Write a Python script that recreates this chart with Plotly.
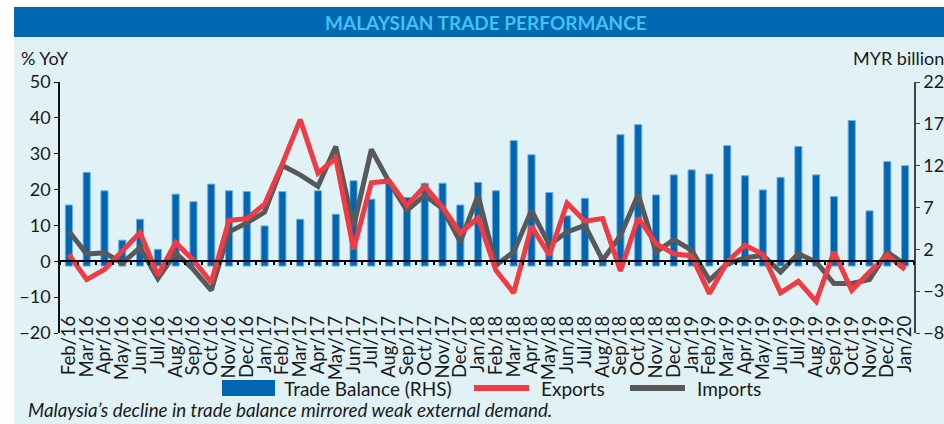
import plotly.graph_objects as go

months = ["Feb/16", "Mar/16", "Apr/16", "May/16", "Jun/16", "Jul/16", "Aug/16", "Sep/16",
          "Oct/16", "Nov/16", "Dec/16", "Jan/17", "Feb/17", "Mar/17", "Apr/17", "May/17",
          "Jun/17", "Jul/17", "Aug/17", "Sep/17", "Oct/17", "Nov/17", "Dec/17", "Jan/18",
          "Feb/18", "Mar/18", "Apr/18", "May/18", "Jun/18", "Jul/18", "Aug/18", "Sep/18",
          "Oct/18", "Nov/18", "Dec/18", "Jan/19", "Feb/19", "Mar/19", "Apr/19", "May/19",
          "Jun/19", "Jul/19", "Aug/19", "Sep/19", "Oct/19", "Nov/19", "Dec/19", "Jan/20"]

trade_balance = [7.3, 11.2, 9.0, 3.1, 5.6, 2.0, 8.6, 7.7,
                 9.8, 9.0, 8.9, 4.8, 8.9, 5.6, 9.0, 6.2,
                 10.2, 8.0, 10.0, 8.2, 9.9, 9.9, 7.3, 10.0,
                 9.0, 15.0, 13.3, 8.8, 6.0, 8.1, 1.0, 15.7,
                 16.9, 8.5, 10.9, 11.5, 11.0, 14.4, 10.8, 9.1,
                 10.6, 14.3, 10.9, 8.3, 17.4, 6.6, 12.5, 12.0]

exports = [1.9, -5.1, -2.3, 3.1, 8.0, -3.9, 5.2, 0.3,
           -5.9, 11.4, 11.9, 15.9, 27.2, 39.5, 24.6, 28.8,
           3.3, 21.9, 22.4, 15.6, 20.9, 15.1, 7.9, 12.1,
           -2.5, -8.8, 9.8, 1.7, 16.2, 11.2, 11.9, -2.7,
           12.1, 4.9, 2.1, 1.5, -9.0, -0.2, 4.5, 2.0,
           -8.8, -5.6, -11.2, 2.6, -8.1, -3.0, 1.7, -2.3]

imports = [8.4, 2.0, 2.4, -0.5, 3.8, -4.8, 2.3, -2.3,
           -8.1, 8.2, 10.7, 13.7, 26.7, 24.1, 20.9, 32.0,
           9.6, 31.2, 22.1, 14.2, 18.4, 14.7, 5.4, 18.4,
           -1.1, 2.6, 14.2, 4.6, 8.2, 10.0, 0.3, 7.2,
           18.6, 2.6, 6.0, 3.1, -5.3, -0.7, 0.9, 1.7,
           -3.0, 2.1, -0.2, -6.2, -6.2, -5.1, 2.6, -0.9]

left_ticks = [-20, -10, 0, 10, 20, 30, 40, 50]
right_ticks = [-8, -3, 2, 7, 12, 17, 22]

W, H = 944, 424
L, R, T, B = 60, 914, 82, 333  # plot area in pixels


def px(p):
    return (p - L) / (R - L)


def py(p):
    return (B - p) / (B - T)


FONT = "Lato, 'Open Sans', sans-serif"
TXT = "#1a1a1a"
BLUE = "#0066b3"
RED = "#ef3b44"
GREY = "#58595b"

fig = go.Figure()

fig.add_trace(go.Bar(
    x=months, y=trade_balance, name="Trade Balance (RHS)",
    marker=dict(color=BLUE, line=dict(color="#6fb0e0", width=1)),
    width=0.4, xaxis="x", yaxis="y", showlegend=False,
))
fig.add_trace(go.Scatter(
    x=months, y=imports, name="Imports", mode="lines",
    line=dict(color=GREY, width=5), xaxis="x", yaxis="y2", showlegend=False,
))
fig.add_trace(go.Scatter(
    x=months, y=exports, name="Exports", mode="lines",
    line=dict(color=RED, width=5), xaxis="x", yaxis="y2", showlegend=False,
))
# invisible helper trace carrying the categories for the zero-line axis
fig.add_trace(go.Scatter(
    x=months, y=[0] * len(months), mode="lines", line=dict(width=0),
    showlegend=False, hoverinfo="skip", xaxis="x2", yaxis="y2",
))

zero_frac = (0 - left_ticks[0]) / (left_ticks[-1] - left_ticks[0])

shapes = [
    dict(type="rect", xref="paper", yref="paper", x0=px(14), x1=px(950), y0=py(430), y1=py(37),
         fillcolor="#e1f2f7", line=dict(width=0), layer="below"),
    dict(type="rect", xref="paper", yref="paper", x0=px(14), x1=px(950), y0=py(37), y1=py(7),
         fillcolor="#0067b1", line=dict(width=0), layer="below"),
    # legend keys
    dict(type="rect", xref="paper", yref="paper", x0=px(222), x1=px(275), y0=py(396), y1=py(380),
         fillcolor=BLUE, line=dict(width=0)),
    dict(type="line", xref="paper", yref="paper", x0=px(474), x1=px(529), y0=py(388), y1=py(388),
         line=dict(color=RED, width=6)),
    dict(type="line", xref="paper", yref="paper", x0=px(630), x1=px(685), y0=py(388), y1=py(388),
         line=dict(color=GREY, width=6)),
]

annotations = [
    dict(text="<b>MALAYSIAN TRADE PERFORMANCE</b>", xref="paper", yref="paper",
         x=px(486), y=py(22), xanchor="center", yanchor="middle", showarrow=False,
         font=dict(family=FONT, size=19, color="#41c3ef")),
    dict(text="% YoY", xref="paper", yref="paper", x=px(19), y=py(58),
         xanchor="left", yanchor="middle", showarrow=False,
         font=dict(family=FONT, size=18, color=TXT)),
    dict(text="MYR billion", xref="paper", yref="paper", x=px(851), y=py(58),
         xanchor="left", yanchor="middle", showarrow=False,
         font=dict(family=FONT, size=18, color=TXT)),
    dict(text="Trade Balance (RHS)", xref="paper", yref="paper", x=px(282), y=py(388),
         xanchor="left", yanchor="middle", showarrow=False,
         font=dict(family=FONT, size=19, color=TXT)),
    dict(text="Exports", xref="paper", yref="paper", x=px(539), y=py(388),
         xanchor="left", yanchor="middle", showarrow=False,
         font=dict(family=FONT, size=19, color=TXT)),
    dict(text="Imports", xref="paper", yref="paper", x=px(695), y=py(388),
         xanchor="left", yanchor="middle", showarrow=False,
         font=dict(family=FONT, size=19, color=TXT)),
    dict(text="<i>Malaysia\u2019s decline in trade balance mirrored weak external demand.</i>",
         xref="paper", yref="paper", x=px(26), y=py(409),
         xanchor="left", yanchor="middle", showarrow=False,
         font=dict(family=FONT, size=18.8, color=TXT)),
]

fig.update_layout(
    width=W, height=H,
    margin=dict(l=L, r=W - R, t=T, b=H - B, pad=0, autoexpand=False),
    paper_bgcolor="white",
    plot_bgcolor="rgba(0,0,0,0)",
    font=dict(family=FONT, size=16, color=TXT),
    showlegend=False,
    barmode="overlay",
    xaxis=dict(
        type="category", categoryorder="array", categoryarray=months,
        tickmode="array", tickvals=months, ticktext=months,
        range=[-0.5, len(months) - 0.5],
        anchor="y", showline=False, ticks="", showgrid=False, zeroline=False,
        tickangle=-90, ticklabelstandoff=-22,
        tickfont=dict(family=FONT, size=18.5, color=TXT),
    ),
    xaxis2=dict(
        type="category", categoryorder="array", categoryarray=months,
        range=[-0.5, len(months) - 0.5],
        overlaying="x", anchor="free", position=zero_frac,
        showline=True, linecolor="black", linewidth=2,
        ticks="outside", ticklen=3, tickwidth=2, tickcolor="black",
        tickson="boundaries", showticklabels=False, showgrid=False, zeroline=False,
    ),
    yaxis=dict(
        side="right", range=[right_ticks[0], right_ticks[-1]], tickvals=right_ticks,
        showline=True, linecolor="#444444", linewidth=1.5,
        ticks="outside", ticklen=4, tickcolor="#444444",
        showgrid=False, zeroline=False,
        tickfont=dict(family=FONT, size=18, color=TXT),
    ),
    yaxis2=dict(
        side="left", overlaying="y", range=[left_ticks[0], left_ticks[-1]], tickvals=left_ticks,
        showline=True, linecolor="#111111", linewidth=1.5,
        ticks="outside", ticklen=4, tickcolor="#111111",
        showgrid=False, zeroline=False,
        tickfont=dict(family=FONT, size=18, color=TXT),
    ),
    shapes=shapes,
    annotations=annotations,
)

fig.write_html(
    "out.html",
    config={"displayModeBar": False},
    post_script="document.body.style.margin='0px';document.body.style.overflow='hidden';",
)
